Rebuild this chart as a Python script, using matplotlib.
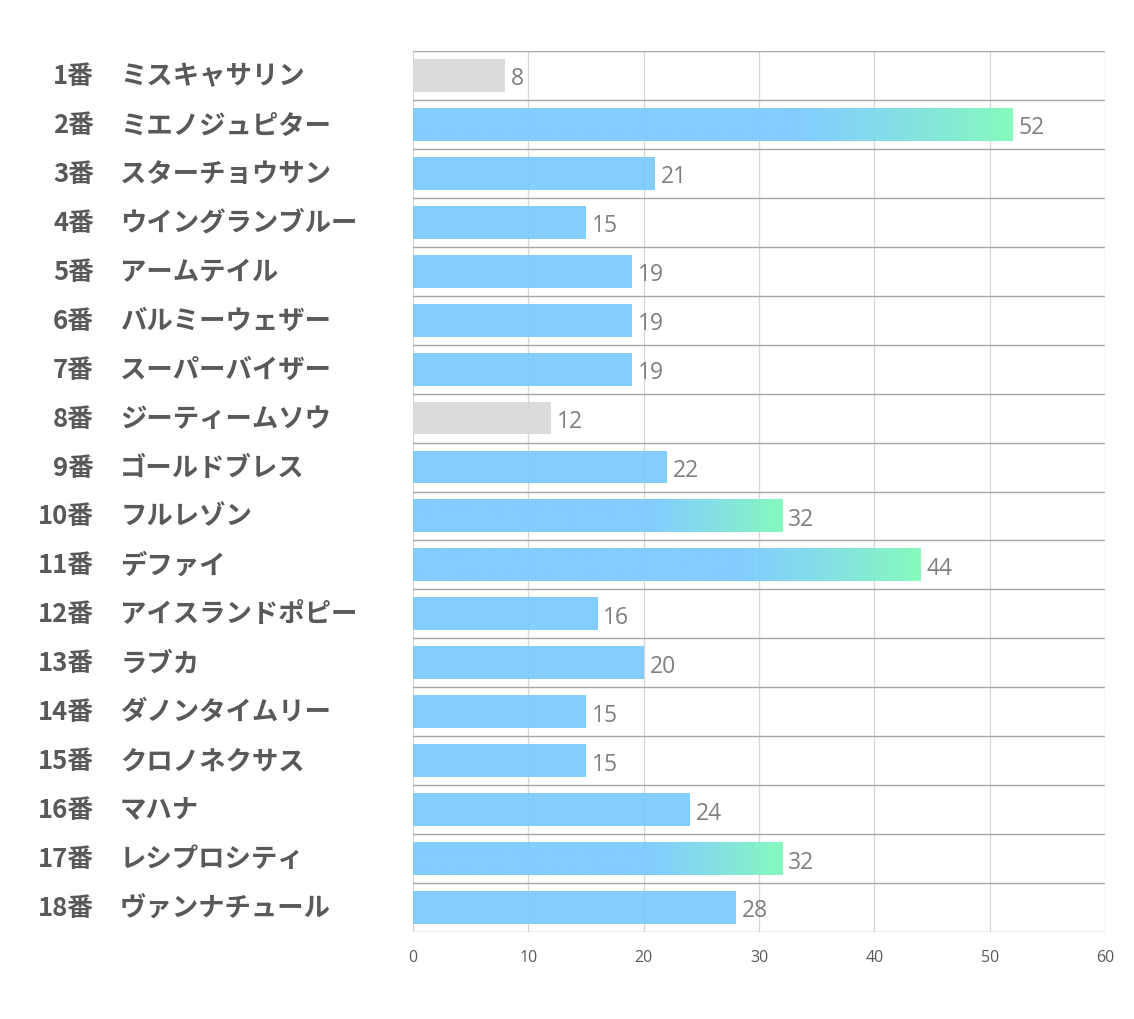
import matplotlib
matplotlib.use("Agg")
import matplotlib.pyplot as plt
import numpy as np
from matplotlib.colors import to_rgb

plt.rcParams['font.family'] = ['Noto Sans CJK JP', 'DejaVu Sans']

numbers = ["1番", "2番", "3番", "4番", "5番", "6番", "7番", "8番", "9番", "10番",
           "11番", "12番", "13番", "14番", "15番", "16番", "17番", "18番"]
names = ["ミスキャサリン", "ミエノジュピター", "スターチョウサン", "ウイングランブルー",
         "アームテイル", "バルミーウェザー", "スーパーバイザー", "ジーティームソウ",
         "ゴールドブレス", "フルレゾン", "デファイ", "アイスランドポピー", "ラブカ",
         "ダノンタイムリー", "クロノネクサス", "マハナ", "レシプロシティ", "ヴァンナチュール"]
values = [8, 52, 21, 15, 19, 19, 19, 12, 22, 32, 44, 16, 20, 15, 15, 24, 32, 28]
gray_rows = ["1番", "8番"]
gradient_rows = ["2番", "10番", "11番", "17番"]
xticks = [0, 10, 20, 30, 40, 50, 60]

BLUE = "#7ccbff"
GREEN = "#7ffbb9"
GRAY = "#d9d9d9"

fig = plt.figure(figsize=(11.34, 10.2), dpi=100)
ax = fig.add_axes([0.3642, 0.0853, 0.6102, 0.8637])

n = len(values)
bh = 0.67

# grid lines
for x in xticks:
    ax.axvline(x, color="#d6d6d6", lw=0.9, zorder=0)
for i in range(n + 1):
    ax.axhline(i - 0.5, color="#a6a6a6", lw=1.0, zorder=0)

b_rgb = np.array(to_rgb(BLUE))
g_rgb = np.array(to_rgb(GREEN))

for i, (num, v) in enumerate(zip(numbers, values)):
    if num in gray_rows:
        ax.barh(i, v, height=bh, color=GRAY, alpha=0.95, zorder=2)
    elif num in gradient_rows:
        t = np.linspace(0, 1, 400)
        w = np.clip((t - 0.63) / 0.37, 0, 1) ** 1.3
        cols = (1 - w)[:, None] * b_rgb + w[:, None] * g_rgb
        img = np.concatenate([cols[None, :, :], np.full((1, 400, 1), 0.95)], axis=2)
        ax.imshow(img, extent=(0, v, i + bh / 2, i - bh / 2), aspect='auto',
                  interpolation='bilinear', zorder=2)
    else:
        ax.barh(i, v, height=bh, color=BLUE, alpha=0.95, zorder=2)
    ax.text(v + 0.5, i + 0.06, str(v), va='center', ha='left', fontsize=16.5,
            color="#7f7f7f", family=['Open Sans', 'DejaVu Sans'])

ax.set_xlim(0, 60)
ax.set_ylim(n - 0.5, -0.5)
ax.set_yticks([])
ax.set_xticks(xticks)
ax.set_xticklabels([str(x) for x in xticks], fontsize=11.5, color="#595959",
                   family=['Open Sans', 'DejaVu Sans'])
ax.tick_params(axis='x', length=0, pad=12)
for s in ax.spines.values():
    s.set_visible(False)

# left labels
for i, (num, nm) in enumerate(zip(numbers, names)):
    ax.text(-27.65, i, num, ha='right', va='center', fontsize=18.5, fontweight='bold',
            color="#595959", clip_on=False)
    ax.text(-25.4, i, nm, ha='left', va='center', fontsize=19, fontweight='bold',
            color="#595959", clip_on=False)

fig.savefig("out.png", dpi=100)
